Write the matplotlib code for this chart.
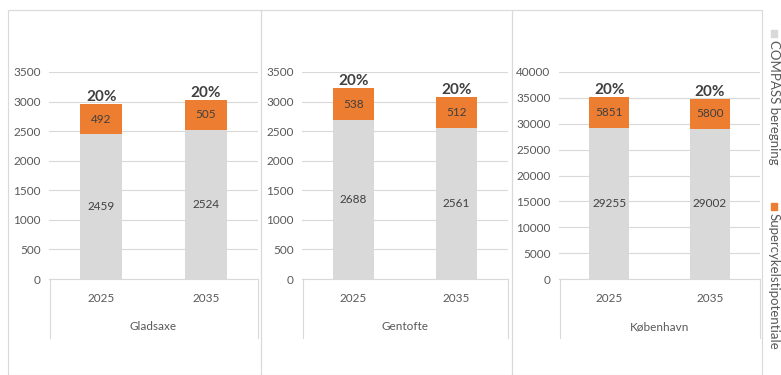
import matplotlib.pyplot as plt
from matplotlib.patches import Rectangle
from matplotlib.lines import Line2D

plt.rcParams['font.family'] = ['Lato', 'DejaVu Sans']

# data
municipalities = ["Gladsaxe", "Gentofte", "København"]
years = ["2025", "2035"]
compass = [[2459, 2524], [2688, 2561], [29255, 29002]]
supercykel = [[492, 505], [538, 512], [5851, 5800]]
y_max = [3500, 3500, 40000]
y_step = [500, 500, 5000]

GREY = "#D9D9D9"
ORANGE = "#ED7D31"
TXT = "#595959"
DARK = "#404040"
LINE = "#D9D9D9"

W, H = 781, 375
fig = plt.figure(figsize=(W / 100, H / 100), dpi=100)


def fx(px):
    return px / W


def fy(py):
    return 1 - py / H


# panel frames and plot areas in pixels (left, right)
frames = [(8, 261), (261, 512), (512, 762)]
plots = [(49, 258), (302, 508), (559, 760)]
plot_top, plot_bottom = 72, 279

for i, name in enumerate(municipalities):
    fl, fr = frames[i]
    fig.add_artist(Rectangle((fx(fl), fy(375)), fx(fr - fl), fy(10) - fy(375),
                             transform=fig.transFigure, fill=False,
                             edgecolor=LINE, lw=0.8))

    pl, pr = plots[i]
    ax = fig.add_axes([fx(pl), fy(plot_bottom), fx(pr - pl), fy(plot_top) - fy(plot_bottom)])
    x = [0, 1]
    ax.bar(x, compass[i], width=0.4, color=GREY, zorder=2)
    ax.bar(x, supercykel[i], width=0.4, bottom=compass[i], color=ORANGE, zorder=2)

    for j in x:
        c, s = compass[i][j], supercykel[i][j]
        ax.text(j, c / 2, str(c), ha='center', va='center', fontsize=8.5, color=DARK)
        ax.text(j, c + s / 2, str(s), ha='center', va='center', fontsize=8.5, color=DARK)
        ax.text(j, c + s, f"{round(100 * s / c)}%", ha='center', va='bottom',
                fontsize=11, fontweight='bold', color=DARK)

    ax.set_xlim(-0.5, 1.5)
    ax.set_ylim(0, y_max[i])
    ax.set_yticks(range(0, y_max[i] + 1, y_step[i]))
    ax.set_xticks([])
    ax.tick_params(axis='y', length=0, labelsize=8.5, labelcolor=TXT, pad=6)
    ax.grid(axis='y', color=LINE, lw=0.8, zorder=0)
    for sp in ['top', 'right', 'left']:
        ax.spines[sp].set_visible(False)
    ax.spines['bottom'].set_color(LINE)
    ax.patch.set_alpha(0)

    # multi-level category axis
    for j, yr in enumerate(years):
        xc = pl + (pr - pl) * (j + 0.5) / 2
        fig.text(fx(xc), fy(298), yr, ha='center', va='center', fontsize=8.5, color=TXT)
    fig.text(fx((pl + pr) / 2), fy(327), name, ha='center', va='center', fontsize=8.5, color=TXT)
    for xv in (pl + 1, pr):
        fig.add_artist(Line2D([fx(xv), fx(xv)], [fy(plot_bottom), fy(338)],
                              transform=fig.transFigure, color=LINE, lw=0.8))

# rotated legend on the right
legend_items = [("COMPASS beregning", GREY, 30), ("Supercykelstipotentiale", ORANGE, 203)]
for label, col, ytop in legend_items:
    fig.add_artist(Rectangle((fx(771), fy(ytop + 7)), fx(6), fy(ytop) - fy(ytop + 7),
                             transform=fig.transFigure, color=col))
    fig.text(fx(774), fy(ytop + 10), label, rotation=270, ha='center', va='top',
             fontsize=9.5, color=TXT)

plt.savefig("out.png", dpi=100)
